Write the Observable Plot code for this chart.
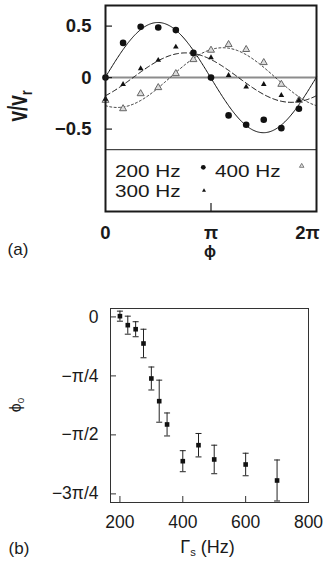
<!DOCTYPE html>
<html>
<head>
<meta charset="utf-8">
<script src="https://cdn.jsdelivr.net/npm/d3@7"></script>
<script src="https://cdn.jsdelivr.net/npm/@observablehq/plot@0.6"></script>
<style>
  body { margin: 0; background: #fff; }
  #fig { position: relative; width: 328px; height: 567px; overflow: hidden;
         font-family: "Liberation Sans", Arial, Helvetica, sans-serif; color: #1a1a1a; }
  #fig svg { display: block; }
  .lab { position: absolute; white-space: nowrap; line-height: 1; transform-origin: 0 0; }
  .lab sub { font-size: 0.62em; vertical-align: -0.3em; }
</style>
</head>
<body>
<div id="fig"></div>
<script>
// ---------- Panel (a): v/v_r against phase, sampled every π/6 ----------
const phaseIndex = [0, 1, 2, 3, 4, 5, 6, 7, 8, 9, 10, 11];           // φ in units of π/6
const v200 = [0, 0.337, 0.493, 0.487, 0.461, 0.240, 0, -0.367, -0.458, -0.409, -0.491, -0.302];
const v300 = [-0.21, -0.065, 0.087, 0.169, 0.298, 0.23, 0.195, 0.022, -0.091, -0.065, -0.172, -0.221];
const v400 = [-0.22, -0.302, -0.156, -0.097, 0.039, 0.175, 0.266, 0.321, 0.273, 0.146, -0.065, -0.221];
const seriesNames = ["200 Hz", "300 Hz", "400 Hz"];
const fitAmplitude = [0.535, 0.24, 0.29];                               // sinusoidal fit v = A·sin(φ + φ0)
const phaseTickValues = [0, Math.PI];
const phaseTickLabels = ["0", "π"];
const vTickValues = [0.5, 0, -0.5];
const vTickLabels = ["0.5", "0", "−0.5"];

// ---------- Panel (b): fitted phase φ0 against Γs ----------
const gammaS = [200, 225, 250, 275, 300, 325, 350, 400, 450, 500, 600, 700];
const phi0 = [0.01, -0.11, -0.164, -0.354, -0.82, -1.122, -1.432, -1.921, -1.708, -1.898, -1.965, -2.178];
const phi0Err = [0.067, 0.12, 0.10, 0.19, 0.153, 0.28, 0.153, 0.14, 0.156, 0.19, 0.15, 0.273];
const gammaTicks = [200, 400, 600, 800];
const phi0TickValues = [0, -Math.PI / 4, -Math.PI / 2, -3 * Math.PI / 4];
const phi0TickLabels = ["0", "−π/4", "−π/2", "−3π/4"];

// Fit phases for the three curves come from panel (b)
const fitPhase = seriesNames.map(n => phi0[gammaS.indexOf(parseInt(n))]);

const fig = document.getElementById("fig");
const FONT = "Liberation Sans, Arial, Helvetica, sans-serif";
const INK = "#1a1a1a";

// point tables
const toPts = vals => phaseIndex.map((k, i) => ({phi: k * Math.PI / 6, v: vals[i]}));
const pts200 = toPts(v200), pts300 = toPts(v300), pts400 = toPts(v400);

// fitted curves
const grid = d3.range(0, 241).map(i => i * 2 * Math.PI / 240);
const curves = seriesNames.map((name, s) =>
  grid.map(phi => ({phi, v: fitAmplitude[s] * Math.sin(phi + fitPhase[s])})));
const curveStyle = [
  {stroke: "#111", strokeWidth: 1, strokeDasharray: null},
  {stroke: "#111", strokeWidth: 1, strokeDasharray: "5,3"},
  {stroke: "#333", strokeWidth: 1, strokeDasharray: "2,2.4"}
];

// lower edge of the data region; the legend sits in the box beneath it
const dataFloor = -0.7;

const topW = 328, topMl = 105, topMr = 12, topMt = 5, topMb = 49, topH = 260;
const topPlotW = topW - topMl - topMr, topPlotH = topH - topMt - topMb;

const topPlot = Plot.plot({
  width: topW, height: topH,
  marginLeft: topMl, marginRight: topMr, marginTop: topMt, marginBottom: topMb,
  x: {domain: [0, 2 * Math.PI]},
  y: {domain: [-1.3, 0.7]},
  style: {fontFamily: FONT, fontSize: "18.5px", fontWeight: "bold", color: INK, background: "transparent", overflow: "visible"},
  marks: [
    Plot.ruleY([0], {stroke: "#8c8c8c", strokeWidth: 2}),
    Plot.ruleY([dataFloor], {stroke: INK, strokeWidth: 1}),
    ...curves.map((c, s) => Plot.line(c, {x: "phi", y: "v", ...curveStyle[s]})),
    Plot.dot(pts400, {x: "phi", y: "v", symbol: "triangle", r: 2.6, fill: "#dcdcdc", stroke: "#666", strokeWidth: 1}),
    Plot.dot(pts300, {x: "phi", y: "v", symbol: "triangle", r: 2.1, fill: "#111", stroke: "none"}),
    Plot.dot(pts200, {x: "phi", y: "v", symbol: "circle", r: 3.3, fill: "#111", stroke: "none"}),
    Plot.tickY(vTickValues, {y: d => d, stroke: INK, strokeWidth: 1.2, insetRight: topPlotW - 7}),
    Plot.tickX([Math.PI], {x: d => d, stroke: INK, strokeWidth: 1.2, insetTop: topPlotH - 8}),
    Plot.frame({stroke: INK, strokeWidth: 2}),
    Plot.axisY({ticks: vTickValues, tickSize: 0, tickPadding: 14, label: null,
                tickFormat: d => vTickLabels[vTickValues.indexOf(d)]}),
    Plot.axisX({ticks: phaseTickValues, tickSize: 0, tickPadding: 14, label: null,
                tickFormat: d => phaseTickLabels[phaseTickValues.indexOf(d)]}),
    Plot.axisX({ticks: [2 * Math.PI], tickSize: 0, tickPadding: 14, label: null, dx: -9,
                tickFormat: () => "2π"})
  ]
});
fig.appendChild(topPlot);

// ---------- bottom plot ----------
const rows = gammaS.map((g, i) => ({g, p: phi0[i], lo: phi0[i] - phi0Err[i], hi: phi0[i] + phi0Err[i]}));
const capSymbol = {
  draw(ctx, size) {
    const w = Math.sqrt(size / Math.PI);
    ctx.moveTo(-w, 0);
    ctx.lineTo(w, 0);
  }
};

const botW = 328, botMl = 110, botMr = 20, botMt = 48, botMb = 65, botH = 307;
const botPlotW = botW - botMl - botMr, botPlotH = botH - botMt - botMb;

const botPlot = Plot.plot({
  width: botW, height: botH,
  marginLeft: botMl, marginRight: botMr, marginTop: botMt, marginBottom: botMb,
  x: {domain: [170, 800]},
  y: {domain: [-2.471, 0.112]},
  style: {fontFamily: FONT, fontSize: "17.5px", color: INK, background: "transparent", overflow: "visible"},
  marks: [
    Plot.frame({stroke: "#333", strokeWidth: 1}),
    Plot.tickX(gammaTicks.slice(0, 3), {x: d => d, stroke: "#333", strokeWidth: 1, insetTop: botPlotH - 6}),
    Plot.tickY(phi0TickValues, {y: d => d, stroke: "#333", strokeWidth: 1, insetRight: botPlotW - 6}),
    Plot.ruleX(rows, {x: "g", y1: "lo", y2: "hi", stroke: "#222", strokeWidth: 1}),
    Plot.dot(rows, {x: "g", y: "lo", symbol: capSymbol, r: 3, stroke: "#222", strokeWidth: 1}),
    Plot.dot(rows, {x: "g", y: "hi", symbol: capSymbol, r: 3, stroke: "#222", strokeWidth: 1}),
    Plot.dot(rows, {x: "g", y: "p", symbol: "square", r: 2.6, fill: "#111", stroke: "none"}),
    Plot.axisX({ticks: gammaTicks, tickSize: 0, tickPadding: 13, label: null}),
    Plot.axisY({ticks: phi0TickValues, tickSize: 0, tickPadding: 12, label: null,
                tickFormat: d => phi0TickLabels[phi0TickValues.indexOf(d)]})
  ]
});
fig.appendChild(botPlot);

// ---------- titles and legend ----------
function label(html, x, y, css, pre = "", center = true) {
  const el = document.createElement("div");
  el.className = "lab";
  el.innerHTML = html;
  el.style.left = x + "px";
  el.style.top = y + "px";
  Object.assign(el.style, css);
  el.style.transform = `${pre} translate(${center ? "-50%" : "0"}, -50%)`;
  fig.appendChild(el);
  return el;
}

label("v/v<sub>r</sub>", 19, 106, {fontSize: "19px", fontWeight: "bold"}, "scaleX(1.45) rotate(-90deg)");
label("ϕ", 210, 252, {fontSize: "16px", fontWeight: "bold"});
label("(a)", 18, 249, {fontSize: "17px"});
label("ϕ<sub>0</sub>", 17, 405, {fontSize: "16px"}, "rotate(-90deg)");
label("Γ<sub>s</sub> (Hz)", 207.5, 548, {fontSize: "18px"});
label("(b)", 19, 548, {fontSize: "17px"});

// legend entries inside the lower box of panel (a)
const legendText = [
  {name: seriesNames[0], x: 115, y: 171},
  {name: seriesNames[2], x: 215, y: 171},
  {name: seriesNames[1], x: 115, y: 191}
];
legendText.forEach(d => label(d.name, d.x, d.y, {fontSize: "17px"}, "scaleX(1.22)", false));

const legendMarks = [
  {x: 203.3, y: 167.3, type: d3.symbolCircle, size: 18, fill: "#111", stroke: "none"},
  {x: 301.7, y: 166, type: d3.symbolTriangle, size: 9, fill: "#ddd", stroke: "#666"},
  {x: 204, y: 190.5, type: d3.symbolTriangle, size: 7, fill: "#111", stroke: "none"}
];
const overlay = d3.select(fig).append("svg")
  .attr("width", 328).attr("height", 567)
  .style("position", "absolute").style("left", 0).style("top", 0).style("pointer-events", "none");
overlay.selectAll("path").data(legendMarks).join("path")
  .attr("transform", d => `translate(${d.x},${d.y})`)
  .attr("d", d => d3.symbol(d.type, d.size)())
  .attr("fill", d => d.fill).attr("stroke", d => d.stroke).attr("stroke-width", 0.8);
</script>
</body>
</html>
